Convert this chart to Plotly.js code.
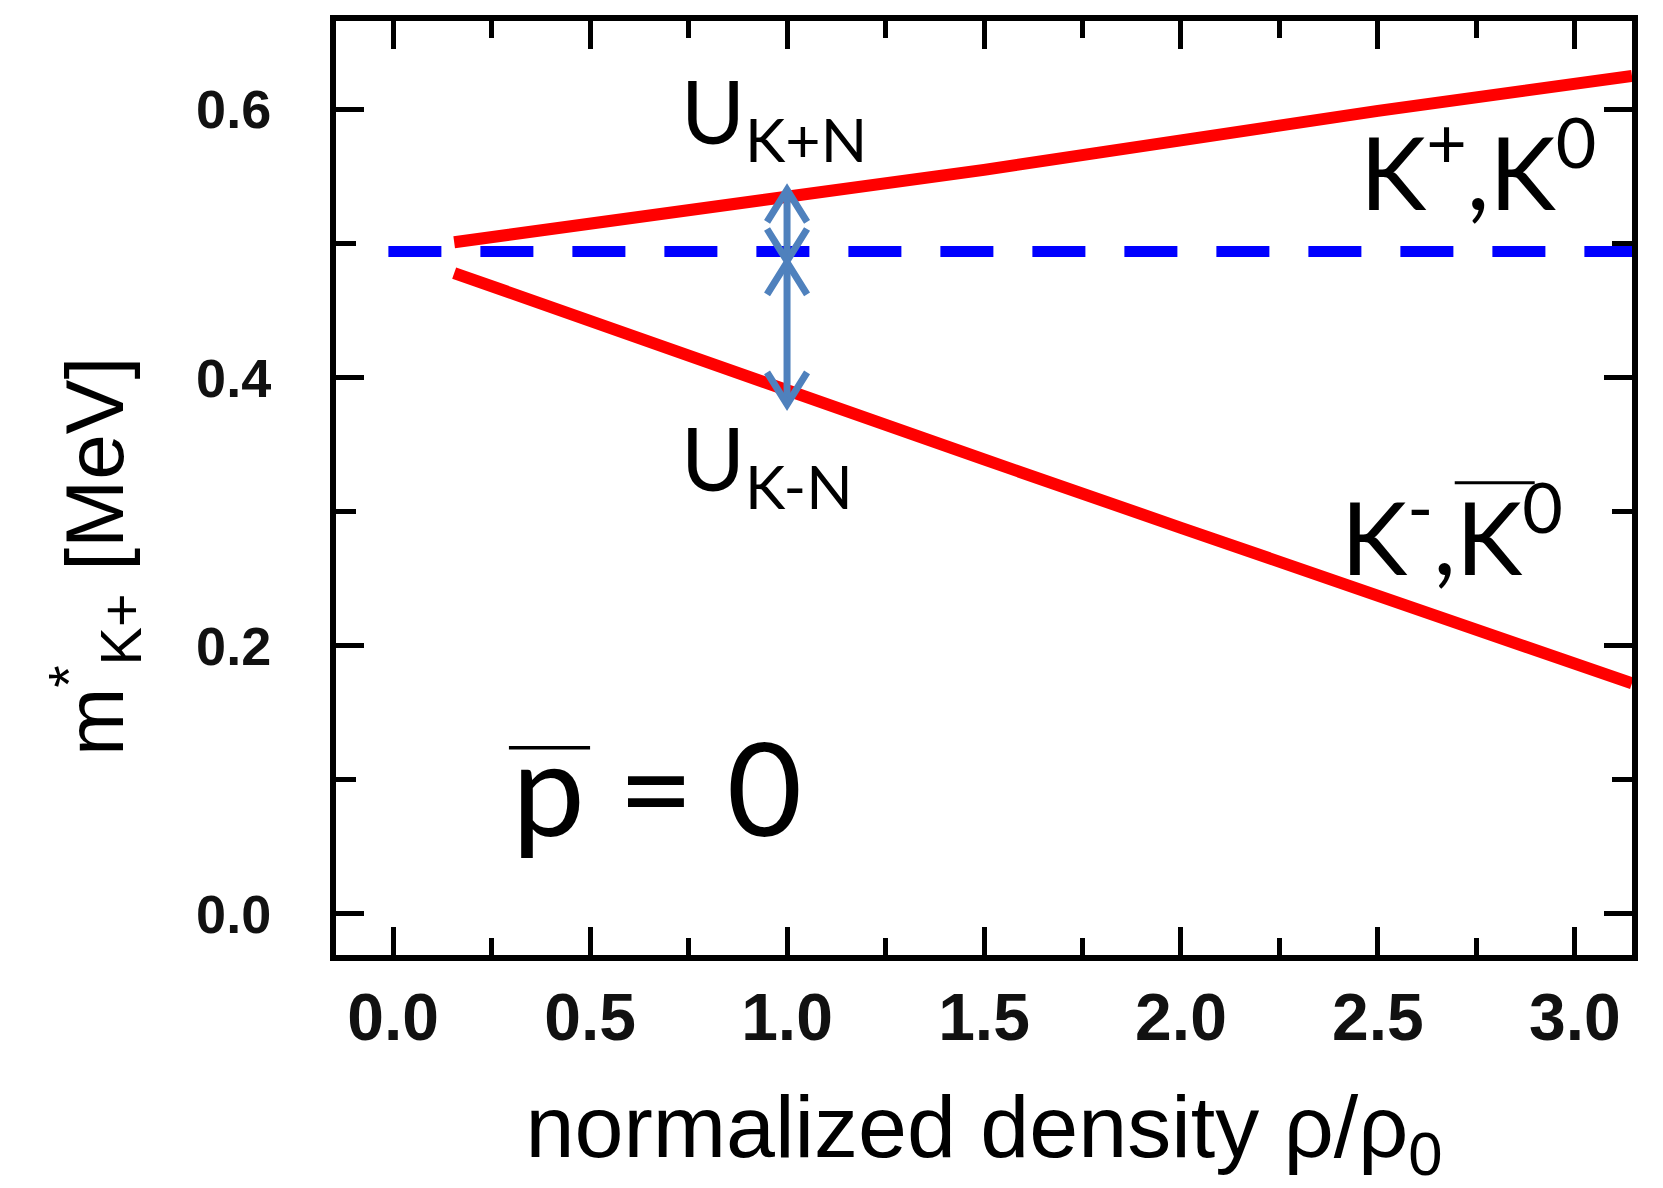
<!DOCTYPE html>
<html>
<head>
<meta charset="utf-8">
<script src="https://cdn.plot.ly/plotly-3.0.1.min.js"></script>
<style>html,body{margin:0;padding:0;background:#fff;}</style>
</head>
<body>
<div id="chart" style="width:1663px;height:1188px;"></div>
<script>
// ---- data ----
const densityX   = [0.155, 0.5, 1.0, 1.5, 2.0, 2.5, 3.145];
const mKplus     = [0.501, 0.515, 0.534, 0.555, 0.577, 0.599, 0.625];
const mKminus    = [0.478, 0.442, 0.390, 0.339, 0.288, 0.237, 0.172];
const vacuumX    = [-0.012, 3.145];
const vacuumMass = [0.494, 0.494];
const arrowX     = [1.0, 1.0];
const arrowFrom  = [0.540, 0.486];
const arrowTo    = [0.487, 0.380];
const xTickVals  = [0, 0.5, 1.0, 1.5, 2.0, 2.5, 3.0];
const xTickText  = ['0.0', '0.5', '1.0', '1.5', '2.0', '2.5', '3.0'];
const yTickVals  = [0.0, 0.2, 0.4, 0.6];
const yTickText  = ['0.0', '0.2', '0.4', '0.6'];

// ---- layout geometry ----
const W = 1663, H = 1188;
const M = {l: 336, r: 31, t: 21, b: 233};
const xRange = [-0.145, 3.145];
const yRange = [-0.0306, 0.666];
const pxPerX = (W - M.l - M.r) / (xRange[1] - xRange[0]);
const pxPerY = (H - M.t - M.b) / (yRange[1] - yRange[0]);

// double-headed arrows with open V heads
const headHalfW = 20 / pxPerX, headLen = 32 / pxPerY;
const ax = [], ay = [];
for (let i = 0; i < arrowX.length; i++) {
  const x = arrowX[i], a = arrowFrom[i], b = arrowTo[i];
  const s = Math.sign(a - b);
  ax.push(x, x, null, x - headHalfW, x, x + headHalfW, null, x - headHalfW, x, x + headHalfW, null);
  ay.push(a, b, null, a - s * headLen, a, a - s * headLen, null, b + s * headLen, b, b + s * headLen, null);
}

const traces = [
  {x: vacuumX, y: vacuumMass, mode: 'lines', name: 'vacuum',
   line: {color: '#0000ff', width: 11, dash: '53px,39px'}, hoverinfo: 'skip'},
  {x: densityX, y: mKplus, mode: 'lines', name: 'K+,K0',
   line: {color: '#ff0000', width: 12}},
  {x: densityX, y: mKminus, mode: 'lines', name: 'K-,K0bar',
   line: {color: '#ff0000', width: 12}},
  {x: ax, y: ay, mode: 'lines', name: 'U', connectgaps: false,
   line: {color: '#4f81bd', width: 7}, hoverinfo: 'skip'}
];

const labFont = {family: 'Lato, "Open Sans", sans-serif', color: '#000'};
const annotations = [
  {text: 'U<sub>K+N</sub>', x: 0.725, y: 0.640, xanchor: 'left', yanchor: 'top',
   font: Object.assign({size: 87}, labFont), showarrow: false},
  {text: 'U<sub>K-N</sub>', x: 0.725, y: 0.381, xanchor: 'left', yanchor: 'top',
   font: Object.assign({size: 87}, labFont), showarrow: false},
  {text: 'K<sup>+</sup>,K<sup>0</sup>', x: 2.45, y: 0.508, xanchor: 'left', yanchor: 'bottom',
   font: Object.assign({size: 100}, labFont), showarrow: false},
  {text: 'K<sup>-</sup>,K<sup>0</sup>', x: 2.40, y: 0.236, xanchor: 'left', yanchor: 'bottom',
   font: Object.assign({size: 100}, labFont), showarrow: false},
  {text: 'p = 0', x: 0.296, y: 0.036, xanchor: 'left', yanchor: 'bottom',
   font: Object.assign({size: 130}, labFont), showarrow: false}
];

const shapes = [
  // overline of K0 (anti-kaon)
  {type: 'line', xref: 'x', yref: 'y', x0: 2.695, x1: 2.898, y0: 0.3216, y1: 0.3216,
   line: {color: '#000', width: 3}},
  // overline of p
  {type: 'line', xref: 'x', yref: 'y', x0: 0.294, x1: 0.500, y0: 0.1239, y1: 0.1239,
   line: {color: '#000', width: 3.5}}
];

const layout = {
  width: W, height: H,
  margin: M,
  paper_bgcolor: '#fff', plot_bgcolor: '#fff',
  showlegend: false,
  xaxis: {
    range: xRange, showgrid: false, zeroline: false,
    showline: true, linecolor: '#000', linewidth: 6, mirror: 'ticks',
    ticks: 'inside', ticklen: 28, tickwidth: 5, tickcolor: '#000',
    tickmode: 'array', tickvals: xTickVals, ticktext: xTickText,
    tickfont: {family: '"Liberation Sans", Arial, sans-serif', size: 66, color: '#111', weight: 'bold'},
    ticklabelstandoff: 0,
    minor: {dtick: 0.25, ticks: 'inside', ticklen: 17, tickwidth: 5, tickcolor: '#000', showgrid: false},
    title: {text: 'normalized density ρ/ρ<sub>0</sub>', standoff: 70,
            font: {family: '"Liberation Sans", Arial, sans-serif', size: 88, color: '#000'}}
  },
  yaxis: {
    range: yRange, showgrid: false, zeroline: false,
    showline: true, linecolor: '#000', linewidth: 6, mirror: 'ticks',
    ticks: 'inside', ticklen: 28, tickwidth: 5, tickcolor: '#000',
    tickmode: 'array', tickvals: yTickVals, ticktext: yTickText,
    tickfont: {family: '"Liberation Sans", Arial, sans-serif', size: 54, color: '#111', weight: 'bold'},
    ticklabelstandoff: 48,
    minor: {dtick: 0.1, ticks: 'inside', ticklen: 20, tickwidth: 5, tickcolor: '#000', showgrid: false},
    title: {text: 'm<sup>*</sup><sub>K+</sub> [MeV]' + '&nbsp;'.repeat(6), standoff: 47,
            font: {family: '"Liberation Sans", Arial, sans-serif', size: 82, color: '#000'}}
  },
  annotations: annotations,
  shapes: shapes
};

Plotly.newPlot('chart', traces, layout, {staticPlot: true, displayModeBar: false});
</script>
</body>
</html>
